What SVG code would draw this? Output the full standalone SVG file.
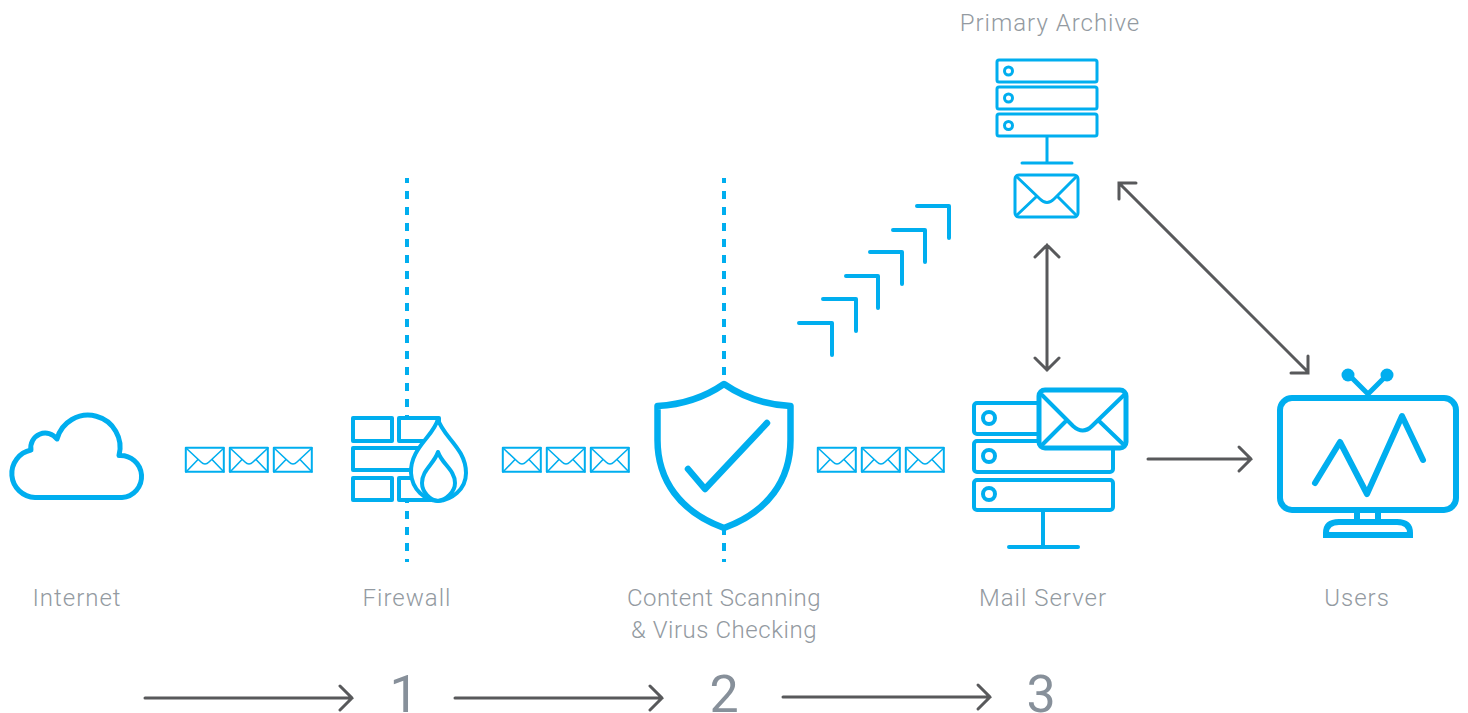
<svg xmlns="http://www.w3.org/2000/svg" width="1468" height="713" viewBox="0 0 1468 713">
<style>
.c{fill:none;stroke:#00aeef;stroke-linecap:round;stroke-linejoin:round}
.a{fill:none;stroke:#58595b;stroke-width:3;stroke-linecap:round;stroke-linejoin:miter}
.t{font-family:Roboto,"Liberation Sans",sans-serif;font-weight:300;font-size:24px;letter-spacing:1px;fill:#939aa1;text-anchor:middle}
.n{font-family:Roboto,"Liberation Sans",sans-serif;font-weight:400;font-size:52px;fill:#87909a;text-anchor:middle}
.d{fill:none;stroke:#00aeef;stroke-width:4;stroke-dasharray:8 8;stroke-dashoffset:3}
</style>
<defs>
<g id="env" class="c" stroke-width="1.6">
<rect x="0.8" y="0.8" width="38" height="24" stroke-width="2"/>
<path d="M1 1L16 15Q20 19 24 15L39 1M1 25L13 12.500M39 25L27 12.500"/>
</g>
</defs>
<rect width="1468" height="713" fill="#fff"/>
<line id="dash1" class="d" x1="407" y1="178" x2="407" y2="562"/>
<line id="dash2" class="d" x1="724" y1="178" x2="724" y2="562"/>
<g id="internet"><path class="c" stroke-width="5" d="M35 497.500H122A21 21 0 1 0 119 455.500A32 32 0 1 0 57 439A14.500 14.500 0 0 0 31 450A24 24 0 0 0 35 497.500Z"/><text class="t" x="77" y="606">Internet</text></g>
<g id="mail-1"><use href="#env" x="185" y="447"/><use href="#env" x="229" y="447"/><use href="#env" x="273" y="447"/></g>
<g id="firewall">
<g class="c" stroke-width="4" style="fill:#fff">
<rect x="353" y="418" width="39" height="23"/><rect x="399" y="418" width="40" height="23"/>
<rect x="353" y="448" width="70" height="22"/>
<rect x="353" y="478" width="39" height="22"/><rect x="399" y="478" width="40" height="22"/>
</g>
<path class="c" stroke-width="4" style="fill:#fff" d="M438 419C434 436 410 448 411 473C412 490 425 500 438 501C451 500 466 490 466 473C466 448 442 436 438 419Z"/>
<path class="c" stroke-width="4" d="M438 452C434 464 422 470 422 483C422 492 430 500 438 501C446 500 455 492 455 483C455 470 442 464 438 452Z"/>
<text class="t" x="407" y="606">Firewall</text>
</g>
<g id="mail-2"><use href="#env" x="502" y="447"/><use href="#env" x="546" y="447"/><use href="#env" x="590" y="447"/></g>
<g id="scanner">
<path class="c" stroke-width="6.500" style="fill:#fff" d="M724 384Q695 404 657.500 406V440C657.500 480 680 512 724 528C768 512 790.500 480 790.500 440V406Q753 404 724 384Z"/>
<path class="c" stroke-width="6.500" stroke-linejoin="miter" d="M688 469L705 489L767 423"/>
<text class="t" x="724" y="606" style="letter-spacing:.45px">Content Scanning</text><text class="t" x="724" y="638" style="letter-spacing:.55px">&amp; Virus Checking</text>
</g>
<g id="mail-3"><use href="#env" x="817" y="447"/><use href="#env" x="861" y="447"/><use href="#env" x="905" y="447"/></g>
<g id="mail-server">
<g class="c" stroke-width="4">
<rect x="974" y="403" width="139" height="31" rx="3"/><rect x="974" y="441" width="139" height="31" rx="3"/><rect x="974" y="480" width="139" height="30" rx="3"/>
<circle cx="989" cy="418" r="6"/><circle cx="989" cy="456" r="6"/><circle cx="989" cy="494" r="6"/>
<path d="M1043 510V547M1009 547H1078"/>
<rect x="1039" y="390" width="87" height="58" rx="6" stroke-width="5" style="fill:#fff"/>
<path d="M1042 395L1073 426Q1083 435 1092 426L1124 395M1042 445L1067 420M1098 420L1124 445"/>
</g>
<text class="t" x="1043" y="606">Mail Server</text>
</g>
<g id="archive">
<g class="c" stroke-width="3">
<rect x="997" y="60" width="100" height="22" rx="2"/><rect x="997" y="87" width="100" height="22" rx="2"/><rect x="997" y="114" width="100" height="22" rx="2"/>
<circle cx="1008.500" cy="71" r="4"/><circle cx="1008.500" cy="98" r="4"/><circle cx="1008.500" cy="125.500" r="4"/>
<path d="M1047 137V163M1022 163H1072"/>
<rect x="1015" y="175" width="63" height="42" rx="4"/>
<path d="M1017 177L1040 199Q1047 206 1054 199L1076 177M1017 215L1036 197M1058 197L1076 215"/>
</g>
<text class="t" x="1050" y="31">Primary Archive</text>
</g>
<g id="users">
<g class="c" stroke-width="6">
<rect x="1280" y="398" width="176" height="112" rx="12"/>
<path d="M1315 483L1340 442L1367 494L1402 416L1423 460"/>
<path d="M1357 512V520M1378 512V520"/>
<path stroke-width="5" d="M1349 375L1368 394L1387 375"/>
<path stroke-width="6" stroke-linejoin="miter" stroke-linecap="butt" d="M1326 535V533Q1326 522 1339 522H1397Q1410 522 1410 533V535Z"/>
</g>
<circle cx="1348" cy="375" r="6.500" fill="#00aeef"/><circle cx="1387" cy="375" r="6.500" fill="#00aeef"/>
<text class="t" x="1357" y="606">Users</text>
</g>
<g id="chevrons" class="c" stroke-width="4">
<path d="M799 323H832V355"/><path d="M823 299H856V331"/><path d="M846 276H878V308"/><path d="M870 252H902V284"/><path d="M893 230H925V262"/><path d="M917 206H949V238"/>
</g>
<g id="connectors" class="a">
<path d="M1047 245V370M1035 257L1047 245L1059 257M1035 358L1047 370L1059 358"/>
<path d="M1119 183L1308 372M1119 199V183H1136M1291 373H1308V356"/>
<path d="M1148 459H1251M1239 447L1251 459L1239 471"/>
<path d="M145 698H352M340 686L352 698L340 710"/>
<path d="M455 698H662M650 686L662 698L650 710"/>
<path d="M783 697H990M978 685L990 697L978 709"/>
</g>
<g id="steps"><text class="n" x="404" y="712">1</text><text class="n" x="724" y="712">2</text><text class="n" x="1041" y="712">3</text></g>
</svg>
